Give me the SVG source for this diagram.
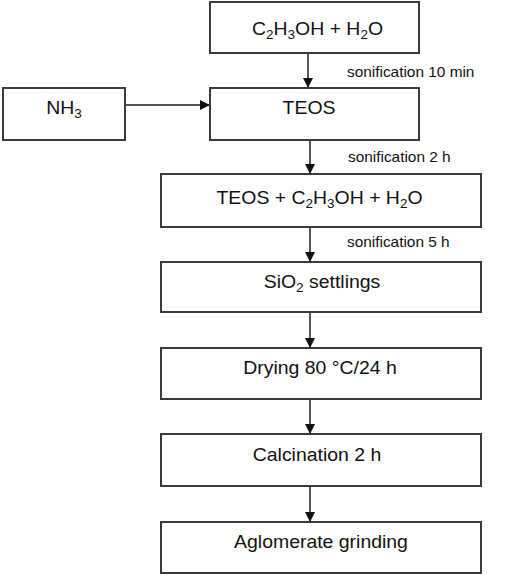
<svg xmlns="http://www.w3.org/2000/svg" width="531" height="575" viewBox="0 0 531 575">
<style>
.box{fill:#fff;stroke:#3a3a3a;stroke-width:2}
.t{font-family:"Liberation Sans",Arial,sans-serif;font-size:18px;fill:#111;text-anchor:middle}
.l{font-family:"Liberation Sans",Arial,sans-serif;font-size:14px;fill:#111}
.sub{font-size:12.5px}
.c{stroke:#555;stroke-width:2;fill:none}
</style>
<defs>
<marker id="ah" markerWidth="12" markerHeight="12" refX="10" refY="5.5" orient="auto" markerUnits="userSpaceOnUse">
<path d="M0,0.5 L10,5.5 L0,10.5 Z" fill="#111"/>
</marker>
</defs>
<rect width="531" height="575" fill="#fff"/>
<g id="connectors">
<line class="c" x1="308" y1="53" x2="308" y2="88" marker-end="url(#ah)"/>
<line class="c" x1="125" y1="105" x2="210" y2="105" marker-end="url(#ah)"/>
<line class="c" x1="310" y1="140" x2="310" y2="174" marker-end="url(#ah)"/>
<line class="c" x1="310" y1="227" x2="310" y2="262" marker-end="url(#ah)"/>
<line class="c" x1="310" y1="312" x2="310" y2="348" marker-end="url(#ah)"/>
<line class="c" x1="310" y1="399" x2="310" y2="434" marker-end="url(#ah)"/>
<line class="c" x1="310" y1="486" x2="310" y2="522" marker-end="url(#ah)"/>
<text class="l" transform="translate(347,77) scale(1.1,1)">sonification 10 min</text>
<text class="l" transform="translate(348,162) scale(1.1,1)">sonification 2 h</text>
<text class="l" transform="translate(347,247) scale(1.1,1)">sonification 5 h</text>
</g>
<g id="n1">
<rect class="box" x="210" y="2" width="209" height="51"/>
<text class="t" transform="translate(317.5,35) scale(1.08,1)">C<tspan class="sub" dy="4">2</tspan><tspan dy="-4">H</tspan><tspan class="sub" dy="4">3</tspan><tspan dy="-4">OH + H</tspan><tspan class="sub" dy="4">2</tspan><tspan dy="-4">O</tspan></text>
</g>
<g id="nh3">
<rect class="box" x="3" y="88" width="122" height="52"/>
<text class="t" transform="translate(64,114) scale(1.08,1)">NH<tspan class="sub" dy="4">3</tspan></text>
</g>
<g id="teos">
<rect class="box" x="210" y="88" width="209" height="52"/>
<text class="t" transform="translate(309,114) scale(1.08,1)">TEOS</text>
</g>
<g id="mix">
<rect class="box" x="161" y="174" width="320" height="53"/>
<text class="t" transform="translate(319.5,204) scale(1.08,1)">TEOS + C<tspan class="sub" dy="4">2</tspan><tspan dy="-4">H</tspan><tspan class="sub" dy="4">3</tspan><tspan dy="-4">OH + H</tspan><tspan class="sub" dy="4">2</tspan><tspan dy="-4">O</tspan></text>
</g>
<g id="sio2">
<rect class="box" x="161" y="262" width="320" height="50"/>
<text class="t" transform="translate(322,288) scale(1.08,1)">SiO<tspan class="sub" dy="4">2</tspan><tspan dy="-4"> settlings</tspan></text>
</g>
<g id="drying">
<rect class="box" x="161" y="348" width="320" height="51"/>
<text class="t" transform="translate(320,374) scale(1.08,1)">Drying 80 °C/24 h</text>
</g>
<g id="calc">
<rect class="box" x="161" y="434" width="320" height="52"/>
<text class="t" transform="translate(317,461) scale(1.08,1)">Calcination 2 h</text>
</g>
<g id="grind">
<rect class="box" x="161" y="522" width="320" height="51"/>
<text class="t" transform="translate(321,548) scale(1.08,1)">Aglomerate grinding</text>
</g>
</svg>
